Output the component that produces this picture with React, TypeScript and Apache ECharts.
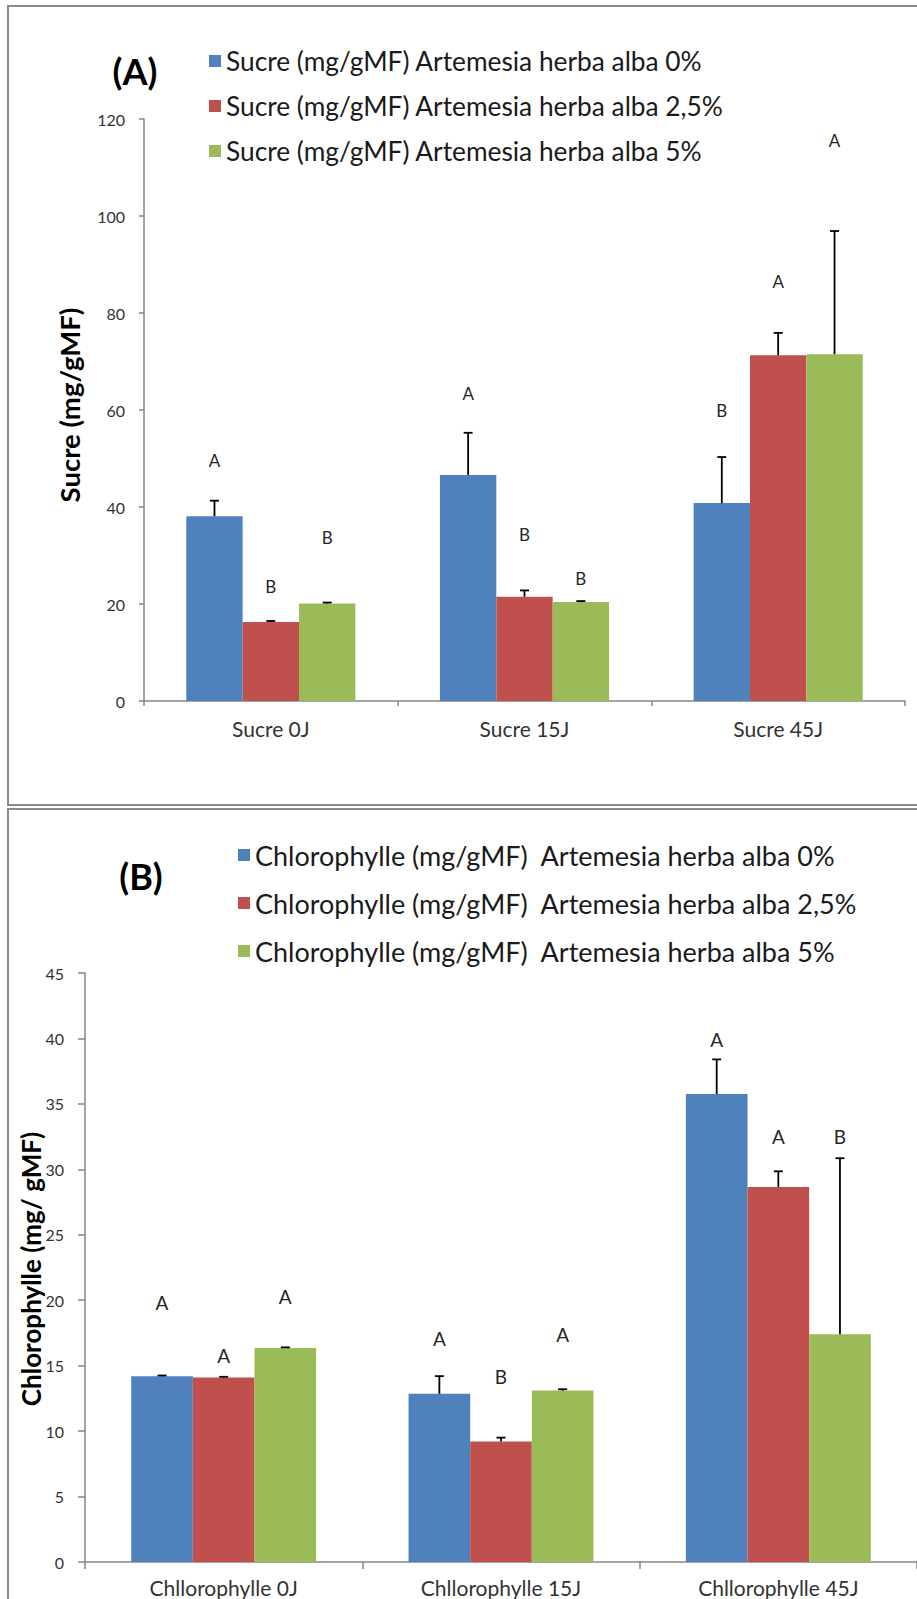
import React, { useEffect, useRef } from "react";
import * as echarts from "echarts";

// ---- Sucre (panel A) ----
const sucreCategories = ["Sucre 0J", "Sucre 15J", "Sucre 45J"];
const sucreNames = [
  "Sucre (mg/gMF) Artemesia herba alba 0%",
  "Sucre (mg/gMF) Artemesia herba alba 2,5%",
  "Sucre (mg/gMF) Artemesia herba alba 5%",
];
const sucre0 = [38.1, 46.6, 40.8];
const sucre25 = [16.3, 21.5, 71.3];
const sucre5 = [20.1, 20.4, 71.5];
const sucreErr0 = [3.2, 8.7, 9.5];
const sucreErr25 = [0.2, 1.3, 4.6];
const sucreErr5 = [0.2, 0.2, 25.4];
const sucreLetters0 = ["A", "A", "B"];
const sucreLetters25 = ["B", "B", "A"];
const sucreLetters5 = ["B", "B", "A"];
const sucreLetterAt0 = [49.5, 63.5, 59.8];
const sucreLetterAt25 = [23.7, 34.4, 86.4];
const sucreLetterAt5 = [33.8, 25.2, 115.5];
const sucreTicks = { min: 0, max: 120, interval: 20 };

// ---- Chlorophylle (panel B) ----
const chloroCategories = ["Chllorophylle 0J", "Chllorophylle 15J", "Chllorophylle 45J"];
const chloroNames = [
  "Chlorophylle (mg/gMF)  Artemesia herba alba 0%",
  "Chlorophylle (mg/gMF)  Artemesia herba alba 2,5%",
  "Chlorophylle (mg/gMF)  Artemesia herba alba 5%",
];
const chloro0 = [14.2, 12.85, 35.75];
const chloro25 = [14.1, 9.2, 28.65];
const chloro5 = [16.35, 13.1, 17.4];
const chloroErr0 = [0.05, 1.35, 2.65];
const chloroErr25 = [0.05, 0.3, 1.2];
const chloroErr5 = [0.05, 0.1, 13.45];
const chloroLetters0 = ["A", "A", "A"];
const chloroLetters25 = ["A", "B", "A"];
const chloroLetters5 = ["A", "A", "B"];
const chloroLetterAt0 = [19.8, 17.1, 39.9];
const chloroLetterAt25 = [15.8, 14.2, 32.5];
const chloroLetterAt5 = [20.3, 17.35, 32.5];
const chloroTicks = { min: 0, max: 45, interval: 5 };

const COLORS = ["#4F81BD", "#C0504D", "#9BBB59"];
const FONT = "Lato";
const AXIS_GREY = "#868686";
const TEXT_DARK = "#262626";

// three bars per category, no gap between bars, Excel-like 150% gap width
const BAR_CAT_GAP = "33.33%";
const BARS_PER_BAND = 4.5;

function errorSeries(axisIdx: number, slot: number, values: number[], errs: number[]) {
  return {
    type: "custom",
    xAxisIndex: axisIdx,
    yAxisIndex: axisIdx,
    silent: true,
    z: 5,
    data: values.map((v, i) => [i, v, errs[i]]),
    renderItem: (_p: any, api: any) => {
      const cat = api.value(0);
      const v = api.value(1);
      const e = api.value(2);
      const bw = api.size([1, 0])[0] / BARS_PER_BAND;
      const base = api.coord([cat, v]);
      const top = api.coord([cat, v + e]);
      const x = base[0] + (slot - 1) * bw;
      const st = { stroke: "#000", lineWidth: 1.8 };
      return {
        type: "group",
        children: [
          { type: "line", shape: { x1: x, y1: base[1], x2: x, y2: top[1] }, style: st },
          { type: "line", shape: { x1: x - 4.5, y1: top[1], x2: x + 4.5, y2: top[1] }, style: st },
        ],
      };
    },
  };
}

function letterSeries(axisIdx: number, slot: number, letters: string[], at: number[], size: number) {
  return {
    type: "custom",
    xAxisIndex: axisIdx,
    yAxisIndex: axisIdx,
    silent: true,
    z: 6,
    data: at.map((v, i) => [i, v]),
    renderItem: (p: any, api: any) => {
      const cat = api.value(0);
      const bw = api.size([1, 0])[0] / BARS_PER_BAND;
      const pt = api.coord([cat, api.value(1)]);
      return {
        type: "text",
        x: pt[0] + (slot - 1) * bw,
        y: pt[1],
        style: {
          text: letters[p.dataIndex],
          fontSize: size,
          fontFamily: FONT,
          fill: TEXT_DARK,
          align: "center",
          verticalAlign: "middle",
        },
      };
    },
  };
}

function barSeries(axisIdx: number, name: string, data: number[], color: string) {
  return {
    type: "bar",
    name,
    xAxisIndex: axisIdx,
    yAxisIndex: axisIdx,
    data,
    barGap: "0%",
    barCategoryGap: BAR_CAT_GAP,
    itemStyle: { color },
    z: 2,
  };
}

export default function App() {
  const ref = useRef<HTMLDivElement>(null);

  useEffect(() => {
    if (!ref.current) return;
    const chart = echarts.init(ref.current, null, { renderer: "svg" });

    const axisLine = { show: true, lineStyle: { color: AXIS_GREY, width: 1.5 } };

    chart.setOption({
      animation: false,
      backgroundColor: "#fff",
      textStyle: { fontFamily: FONT },
      grid: [
        { left: 144, top: 119, width: 761, height: 582 },
        { left: 85, top: 973, width: 843, height: 589 },
      ],
      legend: [
        {
          data: sucreNames,
          orient: "vertical",
          left: 209,
          top: 46,
          padding: 0,
          itemGap: 15,
          itemWidth: 12,
          itemHeight: 12,
          itemTextGap: 14,
          icon: "rect",
          selectedMode: false,
          textStyle: { fontSize: 26.3, lineHeight: 30, color: "#1a1a1a", fontFamily: FONT },
        },
        {
          data: chloroNames,
          orient: "vertical",
          left: 238,
          top: 840,
          padding: 0,
          itemGap: 18,
          itemWidth: 12,
          itemHeight: 12,
          itemTextGap: 16,
          icon: "rect",
          selectedMode: false,
          textStyle: { fontSize: 27, lineHeight: 30, color: "#1a1a1a", fontFamily: FONT },
        },
      ],
      xAxis: [
        {
          type: "category",
          gridIndex: 0,
          data: sucreCategories,
          axisLine,
          axisTick: { show: true, length: 5, lineStyle: { color: AXIS_GREY, width: 1.5 } },
          axisLabel: { fontSize: 21, color: "#333", margin: 17, fontFamily: FONT },
        },
        {
          type: "category",
          gridIndex: 1,
          data: chloroCategories,
          axisLine,
          axisTick: { show: true, length: 7, lineStyle: { color: AXIS_GREY, width: 1.5 } },
          axisLabel: { fontSize: 21, color: "#333", margin: 15, fontFamily: FONT },
        },
      ],
      yAxis: [
        {
          type: "value",
          gridIndex: 0,
          ...sucreTicks,
          axisLine,
          axisTick: { show: true, length: 5, lineStyle: { color: AXIS_GREY, width: 1.5 } },
          splitLine: { show: false },
          axisLabel: { fontSize: 16, color: "#333", margin: 19, fontFamily: FONT },
        },
        {
          type: "value",
          gridIndex: 1,
          ...chloroTicks,
          axisLine,
          axisTick: { show: true, length: 7, lineStyle: { color: AXIS_GREY, width: 1.5 } },
          splitLine: { show: false },
          axisLabel: { fontSize: 16, color: "#333", margin: 21, fontFamily: FONT },
        },
      ],
      graphic: [
        // chart frames
        {
          type: "rect",
          shape: { x: 8, y: 6, width: 960, height: 799 },
          style: { fill: "none", stroke: "#8a8a8a", lineWidth: 2 },
          silent: true,
          z: -1,
        },
        {
          type: "rect",
          shape: { x: 8, y: 809, width: 960, height: 900 },
          style: { fill: "none", stroke: "#8a8a8a", lineWidth: 2 },
          silent: true,
          z: -1,
        },
        {
          type: "text",
          x: 135,
          y: 71,
          style: { text: "(A)", fontSize: 36, fontWeight: "bold", fontFamily: FONT, fill: "#000", align: "center", verticalAlign: "middle" },
        },
        {
          type: "text",
          x: 141,
          y: 876,
          style: { text: "(B)", fontSize: 36, fontWeight: "bold", fontFamily: FONT, fill: "#000", align: "center", verticalAlign: "middle" },
        },
        {
          type: "text",
          x: 69,
          y: 405,
          rotation: Math.PI / 2,
          style: { text: "Sucre (mg/gMF)", fontSize: 27.5, fontWeight: "bold", fontFamily: FONT, fill: "#000", align: "center", verticalAlign: "middle" },
        },
        {
          type: "text",
          x: 31,
          y: 1269,
          rotation: Math.PI / 2,
          z: 10,
          style: { text: "Chlorophylle (mg/ gMF)", fontSize: 26, fontWeight: "bold", fontFamily: FONT, fill: "#000", align: "center", verticalAlign: "middle" },
        },
      ],
      series: [
        barSeries(0, sucreNames[0], sucre0, COLORS[0]),
        barSeries(0, sucreNames[1], sucre25, COLORS[1]),
        barSeries(0, sucreNames[2], sucre5, COLORS[2]),
        errorSeries(0, 0, sucre0, sucreErr0),
        errorSeries(0, 1, sucre25, sucreErr25),
        errorSeries(0, 2, sucre5, sucreErr5),
        letterSeries(0, 0, sucreLetters0, sucreLetterAt0, 17),
        letterSeries(0, 1, sucreLetters25, sucreLetterAt25, 17),
        letterSeries(0, 2, sucreLetters5, sucreLetterAt5, 17),
        barSeries(1, chloroNames[0], chloro0, COLORS[0]),
        barSeries(1, chloroNames[1], chloro25, COLORS[1]),
        barSeries(1, chloroNames[2], chloro5, COLORS[2]),
        errorSeries(1, 0, chloro0, chloroErr0),
        errorSeries(1, 1, chloro25, chloroErr25),
        errorSeries(1, 2, chloro5, chloroErr5),
        letterSeries(1, 0, chloroLetters0, chloroLetterAt0, 19),
        letterSeries(1, 1, chloroLetters25, chloroLetterAt25, 19),
        letterSeries(1, 2, chloroLetters5, chloroLetterAt5, 19),
      ],
    });

    return () => chart.dispose();
  }, []);

  return (
    <div style={{ position: "absolute", left: 0, top: 0, width: 917, height: 1599, overflow: "hidden" }}>
      <div ref={ref} style={{ width: 917, height: 1599 }} />
    </div>
  );
}
